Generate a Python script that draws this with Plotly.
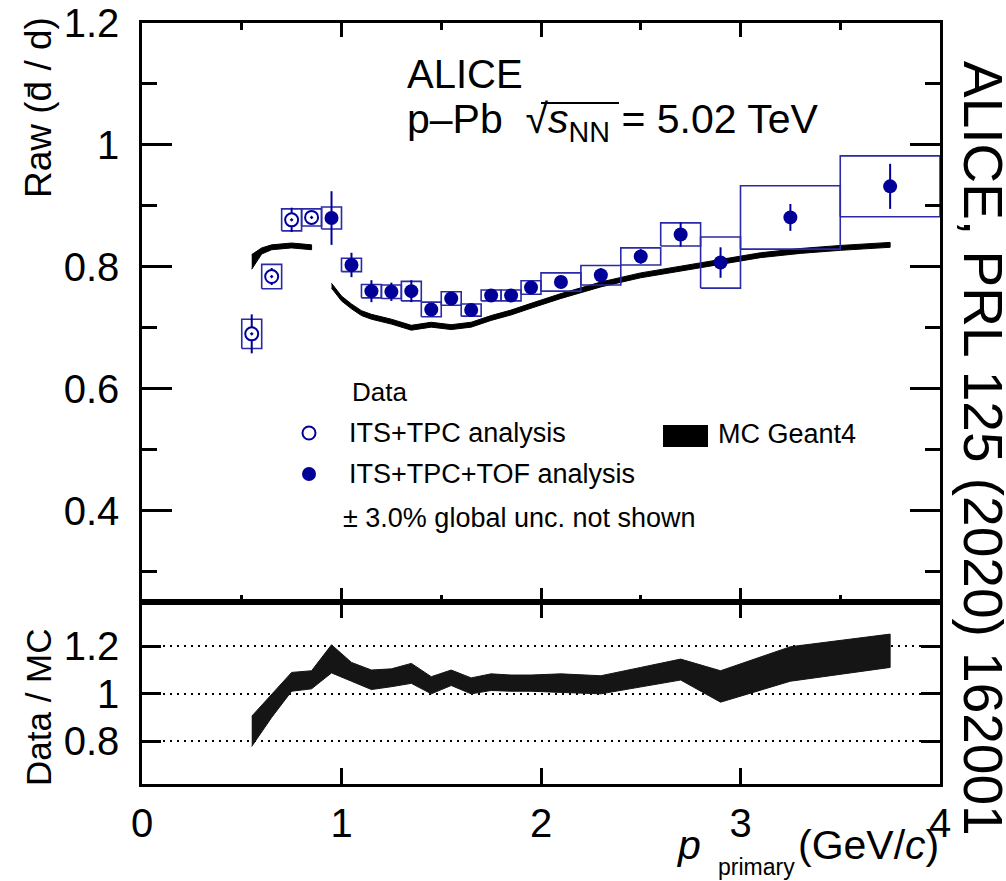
import plotly.graph_objects as go

W, H = 1006, 881
FONT = "Liberation Sans, Arial, Helvetica, sans-serif"
BLUE = "#000099"
BOX_BLUE = "#2a2aa8"

# ---------------- data ----------------
# ITS+TPC analysis (open symbols)
itstpc_p = [0.55, 0.65, 0.75, 0.85]
itstpc_ratio = [0.690, 0.784, 0.877, 0.881]
itstpc_stat = [0.032, 0.014, 0.020, 0.010]
itstpc_syst = [0.024, 0.020, 0.018, 0.014]
itstpc_bin_lo = [0.5, 0.6, 0.7, 0.8]
itstpc_bin_hi = [0.6, 0.7, 0.8, 0.9]

# ITS+TPC+TOF analysis (full symbols)
tof_p = [0.95, 1.05, 1.15, 1.25, 1.35, 1.45, 1.55, 1.65, 1.75, 1.85, 1.95,
         2.1, 2.3, 2.5, 2.7, 2.9, 3.25, 3.75]
tof_ratio = [0.880, 0.803, 0.760, 0.759, 0.760, 0.730, 0.748, 0.729, 0.753,
             0.753, 0.766, 0.775, 0.786, 0.817, 0.853, 0.807, 0.881, 0.932]
tof_stat = [0.044, 0.020, 0.018, 0.015, 0.018, 0.010, 0.010, 0.008, 0.008,
            0.008, 0.009, 0.010, 0.012, 0.012, 0.020, 0.025, 0.022, 0.037]
tof_syst = [0.018, 0.011, 0.011, 0.011, 0.016, 0.012, 0.011, 0.010, 0.009,
            0.009, 0.011, 0.015, 0.016, 0.014, 0.019, 0.042, 0.052, 0.050]
tof_bin_lo = [0.9, 1.0, 1.1, 1.2, 1.3, 1.4, 1.5, 1.6, 1.7, 1.8, 1.9,
              2.0, 2.2, 2.4, 2.6, 2.8, 3.0, 3.5]
tof_bin_hi = [1.0, 1.1, 1.2, 1.3, 1.4, 1.5, 1.6, 1.7, 1.8, 1.9, 2.0,
              2.2, 2.4, 2.6, 2.8, 3.0, 3.5, 4.0]

# MC Geant4 expectation (two momentum ranges)
mc1_p = [0.55, 0.60, 0.65, 0.75, 0.85]
mc1_ratio = [0.808, 0.826, 0.832, 0.835, 0.832]
mc1_unc = [0.012, 0.005, 0.004, 0.004, 0.004]

mc2_p = [0.95, 1.0, 1.05, 1.1, 1.15, 1.25, 1.35, 1.45, 1.55, 1.65, 1.75,
         1.85, 1.95, 2.1, 2.3, 2.5, 2.7, 2.9, 3.1, 3.3, 3.5, 3.75]
mc2_ratio = [0.769, 0.748, 0.735, 0.724, 0.718, 0.710, 0.700, 0.705, 0.701,
             0.705, 0.716, 0.725, 0.736, 0.752, 0.771, 0.786, 0.797, 0.808,
             0.819, 0.826, 0.831, 0.836]
mc2_unc = [0.004] * len(mc2_p)

# Data / MC ratio band
dm_p = [0.55, 0.65, 0.75, 0.85, 0.95, 1.05, 1.15, 1.25, 1.35, 1.45, 1.55,
        1.65, 1.75, 1.85, 1.95, 2.1, 2.3, 2.5, 2.7, 2.9, 3.25, 3.75]
dm_lo = [0.778, 0.900, 1.010, 1.020, 1.087, 1.052, 1.017, 1.029, 1.043,
         0.999, 1.034, 0.999, 1.013, 1.010, 1.010, 1.005, 0.999, 1.029,
         1.057, 0.964, 1.052, 1.110]
dm_hi = [0.905, 0.997, 1.089, 1.096, 1.205, 1.131, 1.099, 1.104, 1.127,
         1.071, 1.099, 1.066, 1.083, 1.078, 1.078, 1.083, 1.075, 1.110,
         1.145, 1.096, 1.197, 1.250]

y_ticks_bottom = [0.8, 1.0, 1.2]
x_ticks = [0, 1, 2, 3, 4]


# ---------------- helpers ----------------
def px(x):
    return x / W


def py(y):
    return 1 - y / H


def box_path(lo, hi, yc, half):
    xs, ys = [], []
    for a, b, c, d in zip(lo, hi, yc, half):
        xs += [a, b, b, a, a, None]
        ys += [c - d, c - d, c + d, c + d, c - d, None]
    return xs, ys


def band(xv, lower, upper):
    return list(xv) + list(xv)[::-1], list(upper) + list(lower)[::-1]


fig = go.Figure()

# MC bands (top panel)
for xv, yv, uv in [(mc1_p, mc1_ratio, mc1_unc), (mc2_p, mc2_ratio, mc2_unc)]:
    bx, by = band(xv, [a - b for a, b in zip(yv, uv)], [a + b for a, b in zip(yv, uv)])
    fig.add_trace(go.Scatter(x=bx, y=by, fill="toself", fillcolor="black",
                             mode="lines", line=dict(color="black", width=1),
                             xaxis="x2", yaxis="y2", hoverinfo="skip"))

# systematic boxes
for lo, hi, yv, sv in [(itstpc_bin_lo, itstpc_bin_hi, itstpc_ratio, itstpc_syst),
                       (tof_bin_lo, tof_bin_hi, tof_ratio, tof_syst)]:
    bx, by = box_path(lo, hi, yv, sv)
    fig.add_trace(go.Scatter(x=bx, y=by, mode="lines",
                             line=dict(color=BOX_BLUE, width=1.6),
                             xaxis="x2", yaxis="y2", hoverinfo="skip"))

# data points with statistical errors
fig.add_trace(go.Scatter(
    x=itstpc_p, y=itstpc_ratio, mode="markers", xaxis="x2", yaxis="y2",
    marker=dict(symbol="circle-dot", size=13, color="white",
                line=dict(color=BLUE, width=2)),
    error_y=dict(type="data", array=itstpc_stat, color=BLUE, thickness=2, width=0),
    name="ITS+TPC analysis"))
fig.add_trace(go.Scatter(
    x=tof_p, y=tof_ratio, mode="markers", xaxis="x2", yaxis="y2",
    marker=dict(symbol="circle", size=14, color=BLUE, line=dict(width=0)),
    error_y=dict(type="data", array=tof_stat, color=BLUE, thickness=2, width=0),
    name="ITS+TPC+TOF analysis"))

# Data / MC band (bottom panel)
bx, by = band(dm_p, dm_lo, dm_hi)
fig.add_trace(go.Scatter(x=bx, y=by, fill="toself", fillcolor="#151515",
                         mode="lines", line=dict(color="#151515", width=1),
                         xaxis="x", yaxis="y", hoverinfo="skip"))

# ---------------- axes ----------------
x_dom = [px(142), px(940)]
top_dom = [py(602), py(23)]
bot_dom = [py(784), py(602)]

axis_common = dict(showline=True, linecolor="black", linewidth=2.5,
                   mirror="ticks", ticks="inside", tickcolor="black",
                   tickwidth=2.5, zeroline=False, automargin=False,
                   tickfont=dict(family=FONT, size=40, color="black"))

fig.update_layout(
    width=W, height=H, margin=dict(l=0, r=0, t=0, b=0),
    paper_bgcolor="white", plot_bgcolor="white", showlegend=False,
    font=dict(family=FONT, color="black"),
    xaxis=dict(domain=x_dom, anchor="y", range=[0, 4], tickvals=x_ticks,
               ticktext=[str(v) for v in x_ticks], ticklen=16,
               showgrid=False, ticklabelstandoff=2, **axis_common),
    xaxis2=dict(domain=x_dom, anchor="y2", range=[0, 4], tickvals=x_ticks,
                ticklen=14, showticklabels=False, showgrid=False,
                minor=dict(dtick=0.5, tick0=0, ticklen=7, tickwidth=2.5,
                           ticks="inside", tickcolor="black", showgrid=False),
                matches="x", **axis_common),
    yaxis=dict(domain=bot_dom, anchor="x", range=[0.62, 1.385],
               tickvals=y_ticks_bottom, ticktext=["0.8", "1", "1.2"],
               ticklen=19, showgrid=True, gridcolor="black", gridwidth=2,
               griddash="2px,5px", ticklabelstandoff=12, **axis_common),
    yaxis2=dict(domain=top_dom, anchor="x2", range=[0.25, 1.2], dtick=0.2,
                tick0=0, ticklen=30, showgrid=False, ticklabelstandoff=12,
                minor=dict(dtick=0.1, tick0=0, ticklen=15, tickwidth=2.5,
                           ticks="inside", tickcolor="black", showgrid=False),
                **axis_common),
)

# ---------------- text ----------------
def note(text, x, y, size, xanchor="left", yanchor="middle", angle=0, **kw):
    fig.add_annotation(text=text, x=px(x), y=py(y), xref="paper", yref="paper",
                       xanchor=xanchor, yanchor=yanchor, textangle=angle,
                       showarrow=False,
                       font=dict(family=FONT, size=size, color="black"), **kw)


note("Raw (d\u0304 / d)", 38, 108, 37, xanchor="center", angle=-90)
note("Data / MC", 38, 707, 35, xanchor="center", angle=-90)
note("ALICE, PRL 125 (2020) 162001", 983, 448, 55, xanchor="center", angle=90)

note("ALICE", 405, 74, 40)
note("p\u2013Pb  \u221a<i>s</i><sub>NN</sub> = 5.02 TeV", 405, 122, 41)

note("Data", 350, 392, 26)
note("ITS+TPC analysis", 347, 433, 27)
note("ITS+TPC+TOF analysis", 347, 474, 27)
note("\u00b1 3.0% global unc. not shown", 341, 518, 27)
note("MC Geant4", 716, 434, 27)

note("<i>p</i>", 688, 845, 41, xanchor="center")
note("(GeV/<i>c</i>)", 941, 845, 41, xanchor="right")
note("primary", 756, 867, 23, xanchor="center")

# legend symbols
fig.add_shape(type="circle", xref="paper", yref="paper",
              x0=px(302.5), x1=px(315.5), y0=py(426.5), y1=py(439.5),
              line=dict(color=BLUE, width=2), fillcolor="white")
fig.add_shape(type="circle", xref="paper", yref="paper",
              x0=px(302), x1=px(316), y0=py(467), y1=py(481),
              line=dict(color=BLUE, width=0), fillcolor=BLUE)
fig.add_shape(type="rect", xref="paper", yref="paper",
              x0=px(663), x1=px(708), y0=py(425), y1=py(447),
              line=dict(color="black", width=0), fillcolor="black")
# radical bar over s_NN
fig.add_shape(type="line", xref="paper", yref="paper",
              x0=px(541), x1=px(619), y0=py(103), y1=py(103),
              line=dict(color="black", width=2))

fig.write_html("out.html")
